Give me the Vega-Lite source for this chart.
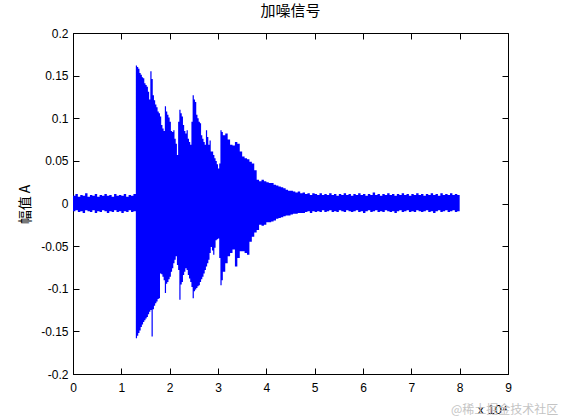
{
  "$schema": "https://vega.github.io/schema/vega-lite/v6.json",
  "width": 435,
  "height": 341,
  "autosize": "none",
  "padding": {"left": 73, "top": 33, "right": 53, "bottom": 46},
  "background": "white",
  "config": {
    "view": {"stroke": "black", "strokeWidth": 1},
    "axis": {"grid": false, "domainColor": "black", "tickColor": "black", "tickWidth": 1, "labelColor": "black", "titleColor": "black", "labelFont": "Liberation Sans", "labelFontSize": 12, "titleFont": "Liberation Sans", "titleFontWeight": "normal"}
  },
  "title": {"text": "加噪信号", "font": "Noto Sans CJK SC", "fontSize": 15, "fontWeight": "normal", "color": "black", "offset": 8},
  "data": {"values": [
    {"t":0,"hi":0.009,"lo":-0.009},{"t":500,"hi":0.011,"lo":-0.008},{"t":1000,"hi":0.008,"lo":-0.010},{"t":1500,"hi":0.010,"lo":-0.009},
    {"t":2000,"hi":0.009,"lo":-0.011},{"t":2500,"hi":0.012,"lo":-0.008},{"t":3000,"hi":0.008,"lo":-0.009},{"t":3500,"hi":0.010,"lo":-0.010},
    {"t":4000,"hi":0.009,"lo":-0.008},{"t":4500,"hi":0.011,"lo":-0.011},{"t":5000,"hi":0.008,"lo":-0.009},{"t":5500,"hi":0.010,"lo":-0.010},
    {"t":6000,"hi":0.009,"lo":-0.008},{"t":6500,"hi":0.011,"lo":-0.009},{"t":7000,"hi":0.009,"lo":-0.011},{"t":7500,"hi":0.010,"lo":-0.009},
    {"t":8000,"hi":0.008,"lo":-0.010},{"t":8500,"hi":0.011,"lo":-0.008},{"t":9000,"hi":0.009,"lo":-0.010},{"t":9500,"hi":0.010,"lo":-0.009},
    {"t":10000,"hi":0.009,"lo":-0.011},{"t":10500,"hi":0.011,"lo":-0.009},{"t":11000,"hi":0.008,"lo":-0.010},{"t":11500,"hi":0.010,"lo":-0.008},
    {"t":12000,"hi":0.009,"lo":-0.010},{"t":12500,"hi":0.011,"lo":-0.009},
    {"t":13000,"hi":0.162,"lo":-0.158},{"t":13250,"hi":0.160,"lo":-0.155},{"t":13500,"hi":0.158,"lo":-0.152},{"t":13750,"hi":0.153,"lo":-0.149},
    {"t":14000,"hi":0.151,"lo":-0.145},{"t":14250,"hi":0.148,"lo":-0.142},{"t":14500,"hi":0.147,"lo":-0.139},{"t":14750,"hi":0.141,"lo":-0.137},
    {"t":15000,"hi":0.139,"lo":-0.135},{"t":15250,"hi":0.137,"lo":-0.133},{"t":15500,"hi":0.131,"lo":-0.130},{"t":15750,"hi":0.122,"lo":-0.127},
    {"t":16000,"hi":0.155,"lo":-0.125},{"t":16250,"hi":0.146,"lo":-0.156},{"t":16500,"hi":0.127,"lo":-0.124},{"t":16750,"hi":0.121,"lo":-0.120},
    {"t":17000,"hi":0.116,"lo":-0.117},{"t":17250,"hi":0.113,"lo":-0.115},{"t":17500,"hi":0.108,"lo":-0.112},{"t":17750,"hi":0.106,"lo":-0.111},
    {"t":18000,"hi":0.102,"lo":-0.082},{"t":18250,"hi":0.092,"lo":-0.083},{"t":18500,"hi":0.088,"lo":-0.086},{"t":18750,"hi":0.085,"lo":-0.090},
    {"t":19000,"hi":0.114,"lo":-0.105},{"t":19250,"hi":0.108,"lo":-0.094},{"t":19500,"hi":0.104,"lo":-0.092},{"t":19750,"hi":0.101,"lo":-0.089},
    {"t":20000,"hi":0.096,"lo":-0.086},{"t":20250,"hi":0.085,"lo":-0.080},{"t":20500,"hi":0.084,"lo":-0.076},{"t":20750,"hi":0.086,"lo":-0.070},
    {"t":21000,"hi":0.076,"lo":-0.066},{"t":21250,"hi":0.070,"lo":-0.062},{"t":21500,"hi":0.057,"lo":-0.072},{"t":21750,"hi":0.096,"lo":-0.078},
    {"t":22000,"hi":0.110,"lo":-0.113},{"t":22250,"hi":0.106,"lo":-0.095},{"t":22500,"hi":0.102,"lo":-0.092},{"t":22750,"hi":0.092,"lo":-0.084},
    {"t":23000,"hi":0.085,"lo":-0.080},{"t":23250,"hi":0.082,"lo":-0.076},{"t":23500,"hi":0.086,"lo":-0.078},{"t":23750,"hi":0.076,"lo":-0.084},
    {"t":24000,"hi":0.072,"lo":-0.088},{"t":24250,"hi":0.069,"lo":-0.092},{"t":24500,"hi":0.096,"lo":-0.098},{"t":24750,"hi":0.127,"lo":-0.111},
    {"t":25000,"hi":0.122,"lo":-0.103},{"t":25250,"hi":0.119,"lo":-0.101},{"t":25500,"hi":0.104,"lo":-0.099},{"t":25750,"hi":0.100,"lo":-0.097},
    {"t":26000,"hi":0.096,"lo":-0.096},{"t":26250,"hi":0.094,"lo":-0.092},{"t":26500,"hi":0.080,"lo":-0.089},{"t":26750,"hi":0.076,"lo":-0.086},
    {"t":27000,"hi":0.072,"lo":-0.082},{"t":27250,"hi":0.069,"lo":-0.078},{"t":27500,"hi":0.086,"lo":-0.074},{"t":27750,"hi":0.078,"lo":-0.070},
    {"t":28000,"hi":0.069,"lo":-0.066},{"t":28250,"hi":0.074,"lo":-0.058},{"t":28500,"hi":0.061,"lo":-0.051},{"t":28750,"hi":0.061,"lo":-0.055},
    {"t":29000,"hi":0.057,"lo":-0.060},{"t":29250,"hi":0.053,"lo":-0.052},{"t":29500,"hi":0.050,"lo":-0.043},{"t":29750,"hi":0.046,"lo":-0.042},
    {"t":30000,"hi":0.041,"lo":-0.041},{"t":30250,"hi":0.047,"lo":-0.064},{"t":30500,"hi":0.086,"lo":-0.096},{"t":30750,"hi":0.084,"lo":-0.090},
    {"t":31000,"hi":0.080,"lo":-0.080},{"t":31500,"hi":0.082,"lo":-0.070},{"t":32000,"hi":0.075,"lo":-0.062},{"t":32500,"hi":0.069,"lo":-0.058},
    {"t":33000,"hi":0.068,"lo":-0.054},{"t":33500,"hi":0.072,"lo":-0.074},{"t":34000,"hi":0.070,"lo":-0.064},{"t":34500,"hi":0.061,"lo":-0.056},
    {"t":35000,"hi":0.055,"lo":-0.056},{"t":35500,"hi":0.053,"lo":-0.058},{"t":36000,"hi":0.052,"lo":-0.060},{"t":36500,"hi":0.049,"lo":-0.045},
    {"t":37000,"hi":0.047,"lo":-0.039},{"t":37500,"hi":0.039,"lo":-0.034},{"t":38000,"hi":0.028,"lo":-0.031},{"t":38500,"hi":0.026,"lo":-0.025},
    {"t":39000,"hi":0.028,"lo":-0.026},{"t":39500,"hi":0.026,"lo":-0.025},{"t":40000,"hi":0.025,"lo":-0.022},{"t":40500,"hi":0.024,"lo":-0.022},
    {"t":41000,"hi":0.024,"lo":-0.021},{"t":41500,"hi":0.022,"lo":-0.020},{"t":42000,"hi":0.021,"lo":-0.018},{"t":42500,"hi":0.020,"lo":-0.017},
    {"t":43000,"hi":0.019,"lo":-0.016},{"t":43500,"hi":0.018,"lo":-0.015},{"t":44000,"hi":0.016,"lo":-0.014},{"t":44500,"hi":0.015,"lo":-0.014},
    {"t":45000,"hi":0.015,"lo":-0.013},{"t":45500,"hi":0.014,"lo":-0.012},{"t":46000,"hi":0.013,"lo":-0.012},{"t":46500,"hi":0.014,"lo":-0.011},
    {"t":47000,"hi":0.012,"lo":-0.011},{"t":47500,"hi":0.013,"lo":-0.011},{"t":48000,"hi":0.011,"lo":-0.010},{"t":48500,"hi":0.012,"lo":-0.009},
    {"t":49000,"hi":0.010,"lo":-0.011},{"t":49500,"hi":0.012,"lo":-0.009},{"t":50000,"hi":0.011,"lo":-0.010},{"t":50500,"hi":0.010,"lo":-0.009},
    {"t":51000,"hi":0.012,"lo":-0.010},{"t":51500,"hi":0.010,"lo":-0.008},{"t":52000,"hi":0.011,"lo":-0.010},{"t":52500,"hi":0.010,"lo":-0.009},
    {"t":53000,"hi":0.012,"lo":-0.008},{"t":53500,"hi":0.010,"lo":-0.010},{"t":54000,"hi":0.011,"lo":-0.009},{"t":54500,"hi":0.009,"lo":-0.010},
    {"t":55000,"hi":0.011,"lo":-0.008},{"t":55500,"hi":0.010,"lo":-0.009},{"t":56000,"hi":0.012,"lo":-0.010},{"t":56500,"hi":0.010,"lo":-0.008},
    {"t":57000,"hi":0.011,"lo":-0.009},{"t":57500,"hi":0.009,"lo":-0.010},{"t":58000,"hi":0.011,"lo":-0.009},{"t":58500,"hi":0.010,"lo":-0.008},
    {"t":59000,"hi":0.012,"lo":-0.010},{"t":59500,"hi":0.010,"lo":-0.009},{"t":60000,"hi":0.011,"lo":-0.011},{"t":60500,"hi":0.009,"lo":-0.009},
    {"t":61000,"hi":0.011,"lo":-0.008},{"t":61500,"hi":0.010,"lo":-0.010},{"t":62000,"hi":0.013,"lo":-0.009},{"t":62500,"hi":0.010,"lo":-0.008},
    {"t":63000,"hi":0.011,"lo":-0.010},{"t":63500,"hi":0.009,"lo":-0.009},{"t":64000,"hi":0.011,"lo":-0.010},{"t":64500,"hi":0.010,"lo":-0.008},
    {"t":65000,"hi":0.012,"lo":-0.009},{"t":65500,"hi":0.010,"lo":-0.010},{"t":66000,"hi":0.011,"lo":-0.009},{"t":66500,"hi":0.009,"lo":-0.011},
    {"t":67000,"hi":0.011,"lo":-0.009},{"t":67500,"hi":0.010,"lo":-0.008},{"t":68000,"hi":0.012,"lo":-0.010},{"t":68500,"hi":0.010,"lo":-0.009},
    {"t":69000,"hi":0.011,"lo":-0.008},{"t":69500,"hi":0.009,"lo":-0.010},{"t":70000,"hi":0.011,"lo":-0.009},{"t":70500,"hi":0.010,"lo":-0.010},
    {"t":71000,"hi":0.012,"lo":-0.008},{"t":71500,"hi":0.010,"lo":-0.009},{"t":72000,"hi":0.011,"lo":-0.010},{"t":72500,"hi":0.009,"lo":-0.009},
    {"t":73000,"hi":0.011,"lo":-0.008},{"t":73500,"hi":0.010,"lo":-0.010},{"t":74000,"hi":0.012,"lo":-0.009},{"t":74500,"hi":0.010,"lo":-0.011},
    {"t":75000,"hi":0.011,"lo":-0.009},{"t":75500,"hi":0.009,"lo":-0.008},{"t":76000,"hi":0.012,"lo":-0.010},{"t":76500,"hi":0.010,"lo":-0.009},
    {"t":77000,"hi":0.011,"lo":-0.008},{"t":77500,"hi":0.010,"lo":-0.010},{"t":78000,"hi":0.012,"lo":-0.009},{"t":78500,"hi":0.010,"lo":-0.008},
    {"t":79000,"hi":0.011,"lo":-0.010},{"t":79500,"hi":0.010,"lo":-0.009},{"t":80000,"hi":0.010,"lo":-0.009}
  ]},
  "layer": [
    {
      "mark": {"type": "area", "interpolate": "step-after", "color": "#0000ff"},
      "encoding": {
        "x": {"field": "t", "type": "quantitative", "scale": {"domain": [0, 90000], "nice": false, "zero": false},
          "axis": {"orient": "bottom", "values": [0,10000,20000,30000,40000,50000,60000,70000,80000,90000], "labelExpr": "datum.value/10000 + ''", "tickSize": -6, "labelPadding": 14, "labelFlush": false, "title": "x 10⁴", "titleFontSize": 13, "titleX": 419, "titleY": 39, "titleBaseline": "alphabetic", "titleAlign": "center"}},
        "y": {"field": "hi", "type": "quantitative", "scale": {"domain": [-0.2, 0.2], "nice": false, "zero": false},
          "axis": {"orient": "left", "values": [-0.2,-0.15,-0.1,-0.05,0,0.05,0.1,0.15,0.2], "labelExpr": "datum.value + ''", "tickSize": -6, "labelPadding": 11, "labelFlush": false, "title": "幅值 A", "titleFont": "Noto Sans CJK SC", "titleFontSize": 14, "titleX": -48, "titleY": 171, "titleBaseline": "middle", "titleAlign": "center", "titleAngle": 270}},
        "y2": {"field": "lo"}
      }
    },
    {
      "mark": {"type": "point", "opacity": 0},
      "encoding": {
        "x": {"field": "t", "type": "quantitative", "axis": {"orient": "top", "values": [0,10000,20000,30000,40000,50000,60000,70000,80000,90000], "labels": false, "domain": false, "tickSize": -6, "title": null}},
        "y": {"field": "hi", "type": "quantitative", "axis": {"orient": "right", "values": [-0.2,-0.15,-0.1,-0.05,0,0.05,0.1,0.15,0.2], "labels": false, "domain": false, "tickSize": -6, "title": null}}
      }
    },
    {
      "data": {"values": [{"note": "@稀土掘金技术社区"}]},
      "mark": {"type": "text", "font": "Noto Sans CJK SC", "fontSize": 12, "color": "#c4c4c4", "align": "center", "baseline": "middle"},
      "encoding": {
        "text": {"field": "note"},
        "x": {"datum": 89300, "type": "quantitative", "axis": null},
        "y": {"datum": -0.2422, "type": "quantitative", "axis": null}
      }
    }
  ],
  "resolve": {"axis": {"x": "independent", "y": "independent"}}
}
